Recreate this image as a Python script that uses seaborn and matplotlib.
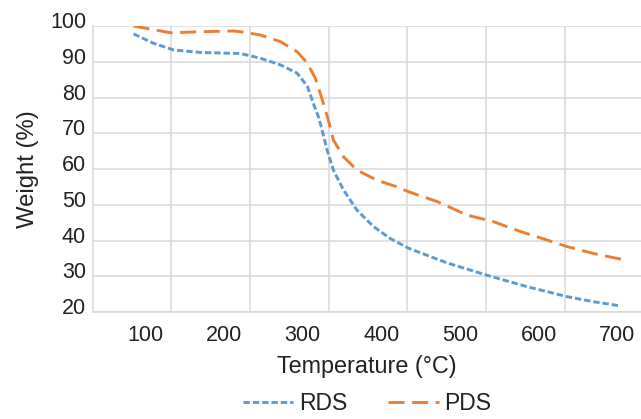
import numpy as np
import pandas as pd
import seaborn as sns
import matplotlib.pyplot as plt
from matplotlib.transforms import ScaledTranslation

# ---- data (temperature in °C, weight in %) ----
rds_temp = [85, 110, 136, 170, 204, 221, 246, 272, 293, 306, 312, 320, 324,
            331, 339, 352, 369, 390, 411, 435, 484, 534, 585, 636, 669, 704]
rds_weight = [97.8, 95.2, 93.3, 92.6, 92.4, 92.3, 91.0, 89.1, 86.8, 83.1,
              79.3, 74.6, 71.5, 65.3, 59.7, 54.1, 48.5, 43.9, 40.6, 37.8,
              33.7, 30.3, 27.1, 24.3, 22.9, 21.7]

pds_temp = [85, 132, 170, 212, 221, 246, 272, 293, 306, 316, 324, 332, 339,
            352, 369, 394, 420, 435, 471, 509, 542, 577, 611, 636, 669, 706]
pds_weight = [100.0, 98.1, 98.4, 98.6, 98.4, 97.5, 95.6, 92.8, 89.6, 85.4,
              80.0, 74.2, 68.1, 63.4, 59.7, 56.9, 55.0, 53.6, 50.9, 47.1,
              45.3, 42.5, 40.1, 38.3, 36.4, 34.7]

x_ticks = [100, 200, 300, 400, 500, 600, 700]
y_ticks = [20, 30, 40, 50, 60, 70, 80, 90, 100]

df = pd.concat([
    pd.DataFrame({"Temperature": rds_temp, "Weight": rds_weight, "Sample": "RDS"}),
    pd.DataFrame({"Temperature": pds_temp, "Weight": pds_weight, "Sample": "PDS"}),
])

# ---- style ----
sns.set_theme(style="white")
plt.rcParams["font.family"] = ["Liberation Sans", "DejaVu Sans"]
text_color = "#222222"
grid_color = "#d9d9d9"

fig = plt.figure(figsize=(6.41, 4.19), dpi=100)
ax = fig.add_axes([93 / 641, 1 - 312 / 419, 548 / 641, 286 / 419])

sns.lineplot(
    data=df, x="Temperature", y="Weight", hue="Sample", style="Sample",
    palette={"RDS": "#5b9bd5", "PDS": "#ed7d31"},
    dashes={"RDS": (2.2, 1.0), "PDS": (5.5, 2.6)},
    sort=False, estimator=None, linewidth=2.1, ax=ax,
)

# axes limits / ticks
ax.set_xlim(33.5, 730)
ax.set_ylim(20, 100)
ax.set_xticks(x_ticks)
ax.set_xticks([t + 33 for t in x_ticks[:-1]], minor=True)
ax.set_yticks(y_ticks)
ax.tick_params(axis="both", which="both", length=0, labelsize=15.5,
               colors=text_color)
ax.tick_params(axis="x", pad=9)
ax.tick_params(axis="y", pad=5)

# grid: vertical on minor ticks, horizontal on major
ax.grid(False)
ax.xaxis.grid(True, which="minor", color=grid_color, linewidth=1.1)
ax.yaxis.grid(True, which="major", color=grid_color, linewidth=1.1)
ax.set_axisbelow(True)

for side in ["top", "right"]:
    ax.spines[side].set_visible(False)
for side in ["left", "bottom"]:
    ax.spines[side].set_color(grid_color)
    ax.spines[side].set_linewidth(1.1)

# y tick labels sit a little above their gridlines in the original
shift = ScaledTranslation(0, 6 / 100, fig.dpi_scale_trans)
for lab in ax.get_yticklabels():
    lab.set_transform(lab.get_transform() + shift)

ax.set_xlabel("Temperature (°C)", fontsize=16.8, color=text_color, labelpad=7)
ax.set_ylabel("Weight (%)", fontsize=17.2, color=text_color, labelpad=8)

handles, labels = ax.get_legend_handles_labels()
ax.legend(handles, labels, loc="lower center", ncol=2, frameon=False,
          bbox_to_anchor=(367 / 641, -0.012), bbox_transform=fig.transFigure,
          fontsize=16.5, handlelength=2.2, handletextpad=0.25,
          columnspacing=1.8, labelcolor=text_color, borderaxespad=0)

fig.savefig("out.png", dpi=100)
